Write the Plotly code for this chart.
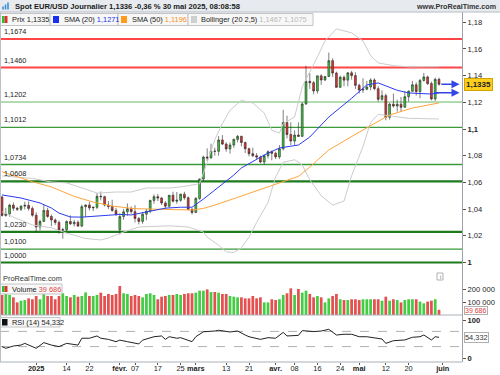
import bisect
import pandas as pd
import plotly.graph_objects as go

# ---------------- data ----------------
days = [d for d in pd.bdate_range("2024-12-18", "2025-05-30")
        if d.strftime("%m-%d") not in ("12-25", "01-01")]
dates = [d.strftime("%Y-%m-%d") for d in days]

opens = [1.0490, 1.0352, 1.0365, 1.0430, 1.0406, 1.0399, 1.0422, 1.0428, 1.0405, 1.0354,
         1.0266, 1.0308, 1.0390, 1.0345, 1.0319, 1.0300, 1.0244, 1.0245, 1.0307, 1.0290,
         1.0301, 1.0273, 1.0418, 1.0431, 1.0409, 1.0413, 1.0496, 1.0493, 1.0430, 1.0420,
         1.0390, 1.0245, 1.0344, 1.0380, 1.0403, 1.0381, 1.0330, 1.0308, 1.0362, 1.0385,
         1.0465, 1.0493, 1.0483, 1.0446, 1.0422, 1.0504, 1.0459, 1.0466, 1.0512, 1.0485,
         1.0398, 1.0375, 1.0480, 1.0625, 1.0790, 1.0783, 1.0834, 1.0833, 1.0918, 1.0887,
         1.0851, 1.0880, 1.0922, 1.0945, 1.0899, 1.0852, 1.0815, 1.0800, 1.0790, 1.0753,
         1.0800, 1.0830, 1.0818, 1.0791, 1.0852, 1.1048, 1.0959, 1.0910, 1.0955, 1.0945,
         1.1188, 1.1357, 1.1347, 1.1285, 1.1398, 1.1367, 1.1393, 1.1512, 1.1419, 1.1312,
         1.1388, 1.1366, 1.1421, 1.1400, 1.1327, 1.1292, 1.1298, 1.1315, 1.1367, 1.1302,
         1.1222, 1.1250, 1.1088, 1.1186, 1.1172, 1.1186, 1.1163, 1.1242, 1.1283, 1.1331,
         1.1280, 1.1364, 1.1390, 1.1340, 1.1225, 1.1372]
highs = [1.0500, 1.0410, 1.0440, 1.0450, 1.0418, 1.0430, 1.0455, 1.0458, 1.0420, 1.0376,
         1.0320, 1.0437, 1.0410, 1.0360, 1.0330, 1.0315, 1.0260, 1.0316, 1.0353, 1.0320,
         1.0315, 1.0433, 1.0435, 1.0455, 1.0420, 1.0520, 1.0532, 1.0500, 1.0460, 1.0470,
         1.0410, 1.0370, 1.0402, 1.0442, 1.0420, 1.0430, 1.0340, 1.0375, 1.0400, 1.0470,
         1.0510, 1.0513, 1.0490, 1.0460, 1.0505, 1.0530, 1.0528, 1.0515, 1.0530, 1.0495,
         1.0410, 1.0490, 1.0630, 1.0800, 1.0855, 1.0890, 1.0860, 1.0947, 1.0955, 1.0900,
         1.0900, 1.0930, 1.0955, 1.0950, 1.0905, 1.0860, 1.0860, 1.0820, 1.0800, 1.0810,
         1.0840, 1.0840, 1.0830, 1.0880, 1.1144, 1.1100, 1.1050, 1.0990, 1.1050, 1.1200,
         1.1474, 1.1420, 1.1360, 1.1400, 1.1410, 1.1395, 1.1573, 1.1530, 1.1430, 1.1400,
         1.1400, 1.1425, 1.1435, 1.1425, 1.1340, 1.1380, 1.1360, 1.1380, 1.1380, 1.1320,
         1.1290, 1.1265, 1.1195, 1.1265, 1.1220, 1.1240, 1.1285, 1.1290, 1.1360, 1.1350,
         1.1375, 1.1420, 1.1400, 1.1355, 1.1385, 1.1385]
lows = [1.0344, 1.0343, 1.0343, 1.0386, 1.0386, 1.0385, 1.0397, 1.0388, 1.0343, 1.0226,
        1.0240, 1.0304, 1.0335, 1.0272, 1.0282, 1.0215, 1.0178, 1.0235, 1.0281, 1.0270,
        1.0266, 1.0265, 1.0340, 1.0390, 1.0385, 1.0400, 1.0465, 1.0420, 1.0400, 1.0380,
        1.0350, 1.0210, 1.0320, 1.0350, 1.0365, 1.0300, 1.0285, 1.0290, 1.0316, 1.0370,
        1.0440, 1.0460, 1.0430, 1.0400, 1.0410, 1.0450, 1.0440, 1.0455, 1.0470, 1.0390,
        1.0360, 1.0370, 1.0470, 1.0610, 1.0760, 1.0780, 1.0800, 1.0800, 1.0880, 1.0830,
        1.0815, 1.0860, 1.0900, 1.0870, 1.0820, 1.0795, 1.0790, 1.0775, 1.0745, 1.0732,
        1.0780, 1.0765, 1.0775, 1.0775, 1.0840, 1.0930, 1.0880, 1.0880, 1.0940, 1.0940,
        1.1180, 1.1300, 1.1260, 1.1265, 1.1330, 1.1360, 1.1390, 1.1390, 1.1310, 1.1310,
        1.1320, 1.1320, 1.1370, 1.1300, 1.1265, 1.1270, 1.1290, 1.1290, 1.1290, 1.1205,
        1.1210, 1.1065, 1.1070, 1.1160, 1.1130, 1.1130, 1.1160, 1.1205, 1.1280, 1.1250,
        1.1230, 1.1355, 1.1330, 1.1215, 1.1210, 1.1325]
closes = [1.0352, 1.0365, 1.0430, 1.0406, 1.0399, 1.0422, 1.0428, 1.0405, 1.0354, 1.0266,
          1.0308, 1.0390, 1.0345, 1.0319, 1.0300, 1.0244, 1.0245, 1.0307, 1.0290, 1.0301,
          1.0273, 1.0418, 1.0431, 1.0409, 1.0413, 1.0496, 1.0493, 1.0430, 1.0420, 1.0390,
          1.0362, 1.0344, 1.0380, 1.0403, 1.0381, 1.0330, 1.0308, 1.0362, 1.0385, 1.0465,
          1.0493, 1.0483, 1.0446, 1.0422, 1.0504, 1.0459, 1.0466, 1.0512, 1.0485, 1.0398,
          1.0375, 1.0480, 1.0625, 1.0790, 1.0783, 1.0834, 1.0833, 1.0918, 1.0887, 1.0851,
          1.0880, 1.0922, 1.0945, 1.0899, 1.0852, 1.0815, 1.0800, 1.0790, 1.0753, 1.0800,
          1.0830, 1.0818, 1.0791, 1.0852, 1.1048, 1.0959, 1.0910, 1.0955, 1.0945, 1.1188,
          1.1357, 1.1347, 1.1285, 1.1398, 1.1367, 1.1393, 1.1512, 1.1419, 1.1312, 1.1388,
          1.1366, 1.1421, 1.1400, 1.1327, 1.1292, 1.1298, 1.1315, 1.1367, 1.1302, 1.1222,
          1.1250, 1.1088, 1.1186, 1.1172, 1.1186, 1.1163, 1.1242, 1.1283, 1.1331, 1.1280,
          1.1364, 1.1390, 1.1340, 1.1225, 1.1372, 1.1335]

volumes = [154000, 162000, 154000, 136000, 97000, 110000, 115000, 128000, 121000, 146000,
           121000, 162000, 146000, 146000, 121000, 146000, 167000, 146000, 136000, 154000,
           141000, 146000, 174000, 146000, 146000, 154000, 172000, 146000, 162000, 154000,
           162000, 223000, 167000, 162000, 146000, 154000, 146000, 136000, 162000, 167000,
           154000, 121000, 141000, 146000, 154000, 154000, 162000, 154000, 162000, 167000,
           167000, 172000, 187000, 187000, 197000, 177000, 177000, 172000, 162000, 162000,
           146000, 141000, 136000, 136000, 128000, 128000, 146000, 128000, 136000, 97000,
           97000, 121000, 115000, 121000, 154000, 167000, 205000, 154000, 200000, 172000,
           187000, 162000, 136000, 146000, 136000, 97000, 128000, 146000, 162000, 121000,
           115000, 115000, 121000, 121000, 115000, 121000, 121000, 121000, 121000, 121000,
           110000, 141000, 110000, 121000, 115000, 97000, 115000, 121000, 121000, 121000,
           103000, 90000, 103000, 110000, 121000, 39686]

sma20_bars = [0, 5, 10, 13, 15, 18, 21, 26, 31, 34, 38, 43, 47, 50, 53, 56, 61, 63, 69, 73,
              78, 81, 86, 92, 96, 99, 104, 107, 113, 115]
sma20_vals = [1.0506, 1.0483, 1.0446, 1.0408, 1.0370, 1.0341, 1.0340, 1.0348, 1.0360, 1.0356,
              1.0380, 1.0407, 1.0414, 1.0414, 1.0475, 1.0543, 1.0655, 1.0708, 1.0805, 1.0858,
              1.0880, 1.0940, 1.1090, 1.1230, 1.1330, 1.1345, 1.1290, 1.1270, 1.1262, 1.1271]

sma50_bars = [0, 8, 13, 19, 24, 29, 35, 43, 50, 53, 56, 62, 70, 78, 81, 86, 95, 102, 108, 115]
sma50_vals = [1.0680, 1.0605, 1.0566, 1.0495, 1.0453, 1.0423, 1.0403, 1.0398, 1.0393, 1.0405,
              1.0430, 1.0488, 1.0565, 1.0645, 1.0715, 1.0843, 1.0993, 1.1105, 1.1157, 1.1195]

bb_up_bars = [0, 8, 13, 17, 22, 25, 30, 34, 38, 44, 47, 52, 54, 56, 58, 60, 63, 66, 69, 71,
              73, 74, 77, 79, 83, 85, 88, 92, 95, 97, 99, 103, 107, 115]
bb_up_vals = [1.0648, 1.0630, 1.0603, 1.0596, 1.0550, 1.0520, 1.0528, 1.0528, 1.0558, 1.0558,
              1.0566, 1.0590, 1.0750, 1.0920, 1.1040, 1.1140, 1.1215, 1.1195, 1.1120, 1.0990,
              1.0970, 1.1040, 1.1090, 1.1315, 1.1540, 1.1660, 1.1750, 1.1720, 1.1660, 1.1550,
              1.1495, 1.1475, 1.1465, 1.1467]

bb_lo_bars = [0, 3, 8, 13, 17, 22, 26, 28, 32, 36, 44, 49, 53, 54, 57, 59, 61, 63, 65, 67,
              70, 72, 74, 77, 79, 81, 84, 87, 90, 92, 95, 97, 99, 103, 107, 115]
bb_lo_vals = [1.0380, 1.0340, 1.0281, 1.0260, 1.0220, 1.0180, 1.0169, 1.0184, 1.0228, 1.0266,
              1.0275, 1.0266, 1.0228, 1.0190, 1.0130, 1.0080, 1.0075, 1.0110, 1.0190, 1.0300,
              1.0450, 1.0640, 1.0750, 1.0770, 1.0730, 1.0620, 1.0500, 1.0430, 1.0460, 1.0650,
              1.0870, 1.1050, 1.1110, 1.1095, 1.1080, 1.1075]

rsi_bars = [0, 1, 3, 5, 6, 7, 9, 11, 13, 15, 17, 20, 21, 23, 25, 26, 28, 30, 31, 33, 36, 37,
            40, 42, 43, 44, 46, 47, 50, 51, 53, 56, 57, 60, 62, 64, 65, 68, 70, 72, 74, 75,
            78, 79, 81, 82, 84, 86, 88, 90, 92, 94, 96, 99, 100, 101, 103, 106, 108, 110,
            111, 113, 114, 115]
rsi_vals = [30, 25.5, 31.5, 34, 38.5, 34, 25.5, 40.5, 34, 30, 38.5, 34, 52, 52, 58, 52, 49,
            43, 47, 43, 37, 47, 56, 58, 49, 56, 52, 53.5, 43, 56, 69, 71, 73, 68.5, 71, 60.5,
            56, 49, 53.5, 52, 67.5, 58, 59.5, 72, 71, 69.5, 71, 75.5, 60.5, 62.5, 62.5, 56,
            56, 52, 50, 38.5, 45.5, 47.5, 54.5, 56, 60.5, 47.5, 56, 54.332]

levels = [1.1674, 1.1460, 1.1202, 1.1012, 1.0734, 1.0608, 1.0230, 1.0100, 1.0000]

price_ticks = [1.00, 1.02, 1.04, 1.06, 1.08, 1.10, 1.12, 1.14, 1.16, 1.18]
price_ticktext = ["<b>1</b>", "1,02", "1,04", "1,06", "1,08", "<b>1,1</b>",
                  "1,12", "1,14", "1,16", "1,18"]
date_ticks = ["2025-01-02", "2025-01-14", "2025-01-22", "2025-02-03", "2025-02-07",
              "2025-02-17", "2025-02-25", "2025-03-03", "2025-03-13", "2025-03-21",
              "2025-04-01", "2025-04-08", "2025-04-16", "2025-04-24", "2025-05-01",
              "2025-05-12", "2025-05-20", "2025-06-02"]
date_ticktext = ["<b>2025</b>", "14", "22", "<b>févr.</b>", "07", "17", "25", "<b>mars</b>",
                 "13", "21", "<b>avr.</b>", "08", "16", "24", "<b>mai</b>", "12", "20",
                 "<b>juin</b>"]

last_price, sma20_last, sma50_last = 1.1335, 1.1271, 1.1196
bb_last = (1.1467, 1.1075)
rsi_last = 54.332

# ---------------- layout helpers ----------------
W, H = 500, 375
def px(x): return x / W
def py(y): return 1 - y / H

PLOT_R = 462
X_MIN, X_MAX = -0.526, 121.05
MAIN_TOP, MAIN_BOT, VOL_BOT, RSI_BOT = 12, 283, 315, 362
def price_at(y): return 1 + (262.5 - y) / 1335.0

idx = list(range(len(dates)))
def pos(d): return bisect.bisect_left(dates, d)

FONT = "Liberation Sans, Arial, sans-serif"
GREEN, RED = "#33c933", "#e3302e"
VGREEN, VRED = "#45cc45", "#e45050"

fig = go.Figure()

fig.add_trace(go.Scatter(x=bb_up_bars, y=bb_up_vals, mode="lines",
                         line=dict(color="#cccccc", width=1), xaxis="x", yaxis="y"))
fig.add_trace(go.Scatter(x=bb_lo_bars, y=bb_lo_vals, mode="lines",
                         line=dict(color="#cccccc", width=1), xaxis="x", yaxis="y"))
fig.add_trace(go.Candlestick(
    x=idx, open=opens, high=highs, low=lows, close=closes,
    increasing=dict(line=dict(color="#2a2a2a", width=0.6), fillcolor=GREEN),
    decreasing=dict(line=dict(color="#2a2a2a", width=0.6), fillcolor=RED),
    whiskerwidth=0, xaxis="x", yaxis="y"))
fig.add_trace(go.Scatter(x=sma50_bars, y=sma50_vals, mode="lines",
                         line=dict(color="#ffa53a", width=1), xaxis="x", yaxis="y"))
fig.add_trace(go.Scatter(x=sma20_bars, y=sma20_vals, mode="lines",
                         line=dict(color="#2b3bf0", width=1), xaxis="x", yaxis="y"))

vcolors = []
for i, c in enumerate(closes):
    ref = opens[0] if i == 0 else closes[i - 1]
    vcolors.append(VGREEN if c >= ref else VRED)
fig.add_trace(go.Bar(x=idx, y=volumes, width=0.72, marker=dict(color=vcolors, line=dict(width=0)),
                     xaxis="x", yaxis="y2"))

fig.add_trace(go.Scatter(x=rsi_bars, y=rsi_vals, mode="lines",
                         line=dict(color="#222222", width=1), xaxis="x", yaxis="y3"))

shapes = []
annotations = []

shapes.append(dict(type="rect", xref="paper", yref="paper", x0=0, x1=1, y0=py(12), y1=1,
                   fillcolor="#e7ebef", line=dict(width=0), layer="above"))
shapes.append(dict(type="line", xref="paper", yref="paper", x0=0, x1=1, y0=py(12), y1=py(12),
                   line=dict(color="#b4bcc4", width=1), layer="above"))
for xx, h in [(3, 3), (5.5, 5), (8, 7)]:
    shapes.append(dict(type="line", xref="paper", yref="paper", x0=px(xx), x1=px(xx),
                       y0=py(9.5), y1=py(9.5 - h), line=dict(color="#3f8fd8", width=1.6),
                       layer="above"))
annotations.append(dict(xref="paper", yref="paper", x=px(13), y=py(6.3), xanchor="left",
                        yanchor="middle", showarrow=False,
                        text="<b>Spot EUR/USD Journalier 1,1336 -0,36 % 30 mai 2025, 08:08:58</b>",
                        font=dict(family=FONT, size=7.6, color="#1a1a1a")))
annotations.append(dict(xref="paper", yref="paper", x=px(498), y=py(6.3), xanchor="right",
                        yanchor="middle", showarrow=False, text="<b>www.ProRealTime.com</b>",
                        font=dict(family=FONT, size=7.2, color="#333333")))

line_styles = {1.1674: ("#ff4545", 2), 1.1460: ("#ff4545", 2), 1.1202: ("#63b863", 1),
               1.1012: ("#3a9a3a", 1.3), 1.0734: ("#3a9a3a", 1.3), 1.0608: ("#1d7a1d", 2.2),
               1.0230: ("#1d7a1d", 2.2), 1.0100: ("#3a9a3a", 1.2), 1.0000: ("#1d7a1d", 2.2)}
for lv in levels:
    col, wd = line_styles[lv]
    shapes.append(dict(type="line", xref="paper", yref="y", x0=0, x1=px(PLOT_R), y0=lv, y1=lv,
                       line=dict(color=col, width=wd), layer="below"))
    annotations.append(dict(xref="paper", yref="y", x=px(1.5), y=lv, xanchor="left",
                            yanchor="bottom", yshift=1, showarrow=False,
                            text=f"{lv:.4f}".replace(".", ","),
                            font=dict(family=FONT, size=7.3, color="#222222")))

def box(x0, x1, y0, y1):
    shapes.append(dict(type="rect", xref="paper", yref="paper", x0=px(x0), x1=px(x1),
                       y0=py(y1), y1=py(y0), fillcolor="#f7f7f7",
                       line=dict(color="#c4c4c4", width=1), layer="above"))
def icon(x0, x1, y0, y1, color):
    shapes.append(dict(type="rect", xref="paper", yref="paper", x0=px(x0), x1=px(x1),
                       y0=py(y1), y1=py(y0), fillcolor=color, line=dict(width=0), layer="above"))
def label(x, y, text, size=7.4, anchor="left", color="#222222"):
    annotations.append(dict(xref="paper", yref="paper", x=px(x), y=py(y), xanchor=anchor,
                            yanchor="middle", showarrow=False, text=text,
                            font=dict(family=FONT, size=size, color=color)))

box(0.5, 50, 13.5, 25.5)
icon(2, 4.6, 16, 23, "#2fbf2f"); icon(4.6, 7.5, 16, 23, "#e03030")
label(10, 19.6, f"Prix {last_price:.4f}".replace(".", ","))
box(50, 118, 13.5, 25.5)
icon(53, 59, 16, 23, "#1a2ff0")
label(62, 19.6, "SMA (20) <span style='color:#2233ee'>" + f"{sma20_last:.4f}".replace(".", ",") + "</span>")
box(118, 188, 13.5, 25.5)
icon(121, 127, 16, 23, "#ff9a1a")
label(130, 19.6, "SMA (50) <span style='color:#f7941d'>" + f"{sma50_last:.4f}".replace(".", ",") + "</span>")
box(188, 313, 13.5, 25.5)
icon(191, 197, 16, 23, "#cfcfcf")
label(199, 19.6, "Bollinger (20 2,5) <span style='color:#b8b8b8'>"
      + f"{bb_last[0]:.4f} {bb_last[1]:.4f}".replace(".", ",") + "</span>")

label(1, 278.5, "ProRealTime.com", size=7.4, color="#333333")
shapes.append(dict(type="rect", xref="paper", yref="paper", x0=px(437), x1=px(443),
                   y0=py(280), y1=py(273), fillcolor="white",
                   line=dict(color="#a0a0a0", width=0.8), layer="above"))
label(440, 276.5, "i", size=5.5, anchor="center", color="#666666")

box(0.5, 62, 284, 294)
icon(2, 4.6, 286, 292, "#2fbf2f"); icon(4.6, 7.5, 286, 292, "#e03030")
label(10, 289, "Volume <span style='color:#e04848'>39 686</span>")
box(0.5, 60, 317.5, 327)
icon(2, 7.5, 319, 325.5, "#111111")
label(10, 322.2, "RSI (14) " + f"{rsi_last:.3f}".replace(".", ","))

for yy in (VOL_BOT, RSI_BOT):
    shapes.append(dict(type="line", xref="paper", yref="paper", x0=0, x1=px(PLOT_R),
                       y0=py(yy), y1=py(yy), line=dict(color="#a9b0b7", width=1), layer="above"))
shapes.append(dict(type="line", xref="paper", yref="paper", x0=px(0.5), x1=px(0.5),
                   y0=py(RSI_BOT), y1=py(MAIN_TOP), line=dict(color="#b9c0c7", width=1),
                   layer="above"))
for lv in (70, 30):
    shapes.append(dict(type="line", xref="paper", yref="y3", x0=0, x1=px(PLOT_R), y0=lv, y1=lv,
                       line=dict(color="#9a9a9a", width=0.8, dash="dash"), layer="below"))

annotations.append(dict(xref="paper", yref="y", x=px(464), y=last_price, xanchor="left",
                        yanchor="middle", showarrow=False,
                        text="<b>" + f"{last_price:.4f}".replace(".", ",") + "</b>",
                        bgcolor="#ffcf1f", bordercolor="#d0a500", borderwidth=1, borderpad=1,
                        font=dict(family=FONT, size=8, color="#222222")))
for yv, tail in ((last_price, 115.2), (sma20_last, 113.3)):
    annotations.append(dict(xref="x", yref="y", x=120.4, y=yv, axref="x", ayref="y",
                            ax=tail, ay=yv, showarrow=True, arrowhead=2, arrowsize=1,
                            arrowwidth=1.6, arrowcolor="#3246e6", text="", standoff=0))

annotations.append(dict(xref="paper", yref="y2", x=px(464), y=volumes[-1], xanchor="left",
                        yanchor="middle", yshift=-1, showarrow=False, text="39 686",
                        bordercolor="#b0b0b0", borderwidth=1, borderpad=0, bgcolor="white",
                        font=dict(family=FONT, size=7, color="#e04040")))
annotations.append(dict(xref="paper", yref="y3", x=px(464), y=rsi_last, xanchor="left",
                        yanchor="middle", showarrow=False, text=f"{rsi_last:.3f}".replace(".", ","),
                        bordercolor="#b0b0b0", borderwidth=1, borderpad=0, bgcolor="white",
                        font=dict(family=FONT, size=7.4, color="#333333")))

tickfont = dict(family=FONT, size=7.6, color="#222222")
axis_common = dict(showgrid=False, zeroline=False, side="right", anchor="x",
                   ticks="outside", ticklen=3, tickcolor="#555555", showline=True,
                   linecolor="#9aa3ab", linewidth=1, tickfont=tickfont, automargin=False)

fig.update_layout(
    width=W, height=H, margin=dict(l=0, r=0, t=0, b=0, autoexpand=False),
    paper_bgcolor="white", plot_bgcolor="white", showlegend=False, hovermode=False,
    xaxis=dict(domain=[0, px(PLOT_R)], range=[X_MIN, X_MAX], anchor="y3",
               tickvals=[pos(d) for d in date_ticks], ticktext=date_ticktext, tickangle=0,
               ticks="outside", ticklen=2, tickcolor="#555555", showgrid=False,
               zeroline=False, showline=False, automargin=False, ticklabelstandoff=-3,
               tickfont=dict(family=FONT, size=7.4, color="#222222"),
               rangeslider=dict(visible=False)),
    yaxis=dict(domain=[py(MAIN_BOT), py(MAIN_TOP)], range=[price_at(MAIN_BOT), price_at(MAIN_TOP)],
               tickvals=price_ticks, ticktext=price_ticktext, **axis_common),
    yaxis2=dict(domain=[py(VOL_BOT), py(MAIN_BOT)], range=[0, (VOL_BOT - MAIN_BOT) / 13 * 100000],
                tickvals=[100000, 200000], ticktext=["100 000", "200 000"], **axis_common),
    yaxis3=dict(domain=[py(RSI_BOT), py(VOL_BOT)], range=[(358 - RSI_BOT) / 0.38, (358 - VOL_BOT) / 0.38],
                tickvals=[0, 100], ticktext=["<b>0</b>", "<b>100</b>"], **axis_common),
    shapes=shapes, annotations=annotations,
)

fig.write_html("out.html")
